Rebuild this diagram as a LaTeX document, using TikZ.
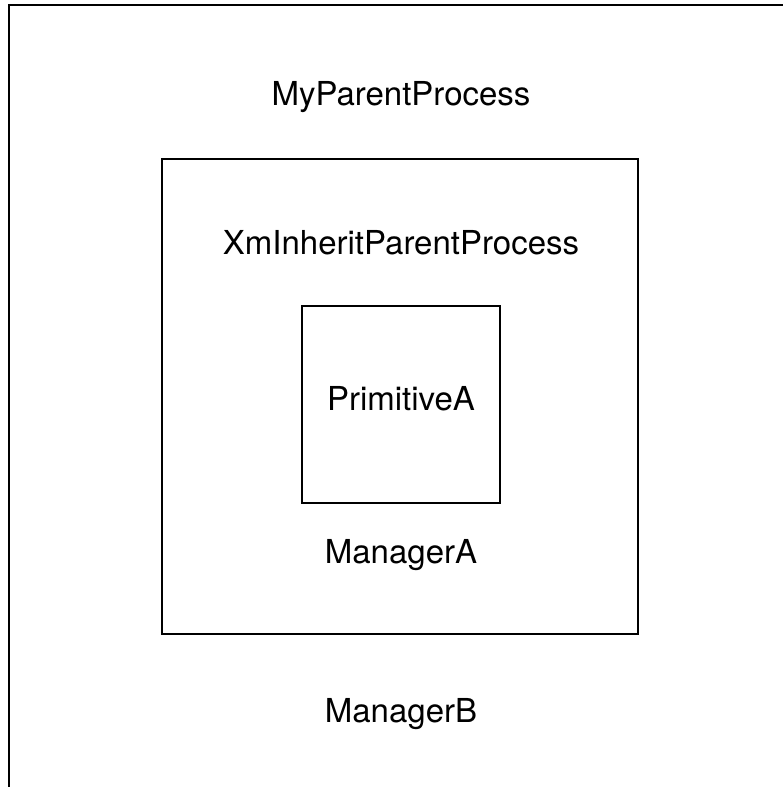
\documentclass[tikz,border=0pt]{standalone}
\usepackage{fontspec}
\setmainfont{TeX Gyre Heros}
\begin{document}
\begin{tikzpicture}[x=1pt,y=-1pt,
  frame/.style={draw=black,line width=2.2pt,fill=none,inner sep=0pt,outer sep=0pt},
  label/.style={inner sep=0pt,font=\fontsize{33}{40}\selectfont,anchor=center}]
  \useasboundingbox (0,0) rectangle (783,787);
  \clip (0,0) rectangle (783,787);
  % outer process frame, running past the page on the right and bottom
  \coordinate (outerBL) at (9,800);
  \coordinate (outerTL) at (9,5);
  \coordinate (outerTR) at (800,5);
  \draw[line width=2.6pt] (outerBL) -- (outerTL) -- (outerTR);
  % nested frames
  \node[frame,minimum width=476pt,minimum height=475pt] (mid) at (400,396.5) {};
  \node[frame,minimum width=198pt,minimum height=197pt] (inner) at (401,404.5) {};
  % labels
  \node[label] (myparent) at (401,97) {MyParentProcess};
  \node[label] (xminherit) at (401,243) {XmInheritParentProcess};
  \node[label] (primA) at (401,399) {PrimitiveA};
  \node[label] (mgrA) at (401,555) {ManagerA};
  \node[label] (mgrB) at (401,714) {ManagerB};
\end{tikzpicture}
\end{document}
